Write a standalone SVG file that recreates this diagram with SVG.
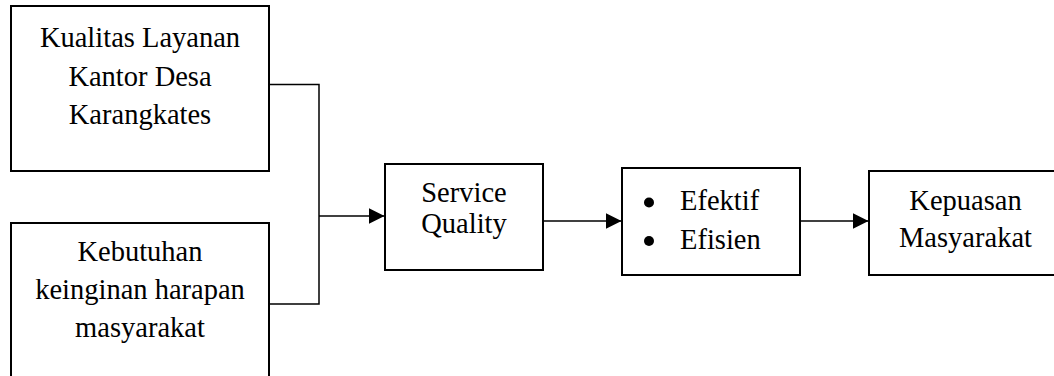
<svg xmlns="http://www.w3.org/2000/svg" width="1054" height="376" viewBox="0 0 1054 376">
  <style>
    .box { fill: #ffffff; stroke: #000000; stroke-width: 2; }
    .lbl { font-family: "Liberation Serif", "Times New Roman", serif; font-size: 28.5px; fill: #000000; text-anchor: middle; }
    .lft { text-anchor: start; }
    .wire { fill: none; stroke: #000000; stroke-width: 1.5; }
  </style>
  <defs>
    <marker id="arrow" viewBox="0 0 16 16" refX="16" refY="8" markerWidth="16" markerHeight="16" markerUnits="userSpaceOnUse" orient="auto">
      <path d="M0,0 L16,8 L0,16 Z" fill="#000000"/>
    </marker>
  </defs>
  <rect width="1054" height="376" fill="#ffffff"/>

  <g id="connectors">
    <polyline class="wire" points="269,84.5 319,84.5 319,304 269,304"/>
    <line class="wire" x1="319" y1="216" x2="384.5" y2="216" marker-end="url(#arrow)"/>
    <line class="wire" x1="543" y1="221" x2="621.5" y2="221" marker-end="url(#arrow)"/>
    <line class="wire" x1="800" y1="221" x2="868.5" y2="221" marker-end="url(#arrow)"/>
  </g>

  <g id="kualitas-layanan">
    <rect class="box" x="11" y="6" width="258" height="165"/>
    <text class="lbl" x="140" y="47">Kualitas Layanan</text>
    <text class="lbl" x="140" y="85.5">Kantor Desa</text>
    <text class="lbl" x="140" y="123.5">Karangkates</text>
  </g>

  <g id="kebutuhan">
    <rect class="box" x="11" y="223" width="258" height="160"/>
    <text class="lbl" x="140" y="260.5">Kebutuhan</text>
    <text class="lbl" x="140" y="298.5">keinginan harapan</text>
    <text class="lbl" x="140" y="336.5">masyarakat</text>
  </g>

  <g id="service-quality">
    <rect class="box" x="385" y="164" width="158" height="106"/>
    <text class="lbl" x="464" y="201.5">Service</text>
    <text class="lbl" x="464" y="233">Quality</text>
  </g>

  <g id="efektif-efisien">
    <rect class="box" x="622" y="168" width="178" height="107"/>
    <circle cx="649" cy="202.5" r="5"/>
    <circle cx="649" cy="241" r="5"/>
    <text class="lbl lft" x="680" y="209.5">Efektif</text>
    <text class="lbl lft" x="680" y="249">Efisien</text>
  </g>

  <g id="kepuasan">
    <rect class="box" x="869" y="171" width="193" height="104"/>
    <text class="lbl" x="965.5" y="210">Kepuasan</text>
    <text class="lbl" x="965.5" y="246.5">Masyarakat</text>
  </g>
</svg>
